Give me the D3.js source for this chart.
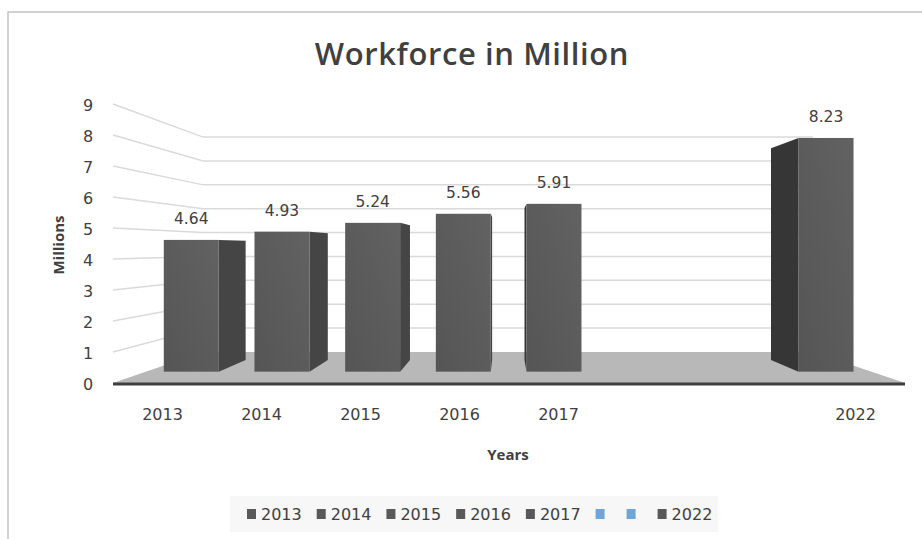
<!DOCTYPE html>
<html>
<head>
<meta charset="utf-8">
<script src="https://cdn.jsdelivr.net/npm/d3@7/dist/d3.min.js"></script>
<style>
  body { margin: 0; background: #fff; }
  text { fill: #404040; }
</style>
</head>
<body>
<svg width="922" height="539"></svg>
<script>
// chart data
var years = ['2013', '2014', '2015', '2016', '2017', '', '', '2022'];
var workforce = [4.64, 4.93, 5.24, 5.56, 5.91, null, null, 8.23];
var legendColors = ['#595959', '#595959', '#595959', '#595959', '#595959', '#6fa6da', '#6fa6da', '#595959'];
var yTicks = [0, 1, 2, 3, 4, 5, 6, 7, 8, 9];

var svg = d3.select('svg');

//border of the chart area
svg.append('path')
	.attr('d', 'M8,539 L8,12 L922,12')
	.attr('fill', 'none')
	.attr('stroke', '#c4c4c4')
	.attr('stroke-width', 1.5);

svg.append('text')
	.attr('x', 472).attr('y', 53)
	.attr('text-anchor', 'middle')
	.attr('dominant-baseline', 'central')
	.style('font-family', 'Open Sans')
	.style('font-weight', 600)
	.style('font-size', '31px')
	.style('letter-spacing', '0.6px')
	.text('Workforce in Million');

//front plane scales (depth 0), then a simple perspective towards the vanishing point
var xScale = d3.scaleBand()
	.domain(d3.range(years.length))
	.range([113, 905]);

var yScale = d3.scaleLinear()
	.domain([0, 9])
	.range([383, 104]);

var vp = [505, 248];
var persp = 0.2987; // back wall ends up at 0.77 of the front size

var proj = function(x, y, t) {
	var s = 1 / (1 + persp * t);
	return [vp[0] + s * (x - vp[0]), vp[1] + s * (y - vp[1])];
}

var poly = function(pts) {
	return 'M' + pts.map(p => p.join(',')).join('L') + 'Z';
}

var walls = svg.append('g');

// gridlines: side wall + back wall
walls.selectAll('path.grid')
	.data(yTicks.filter(v => v > 0))
	.enter().append('path')
	.attr('class', 'grid')
	.attr('d', v => {
		var a = proj(113, yScale(v), 0), b = proj(113, yScale(v), 1), c = proj(905, yScale(v), 1);
		return 'M' + a + 'L' + b + 'L' + c;
	})
	.attr('fill', 'none')
	.attr('stroke', '#dadada')
	.attr('stroke-width', 1.5);

// floor
walls.append('path')
	.attr('d', poly([proj(113, yScale(0), 0), proj(905, yScale(0), 0), proj(905, yScale(0), 1), proj(113, yScale(0), 1)]))
	.attr('fill', '#b8b8b8');

walls.append('line')
	.attr('x1', 113).attr('x2', 905)
	.attr('y1', yScale(0) + 1).attr('y2', yScale(0) + 1)
	.attr('stroke', '#3f3f3f')
	.attr('stroke-width', 3);

// gradient for bar fronts
var defs = svg.append('defs');
var grad = defs.append('linearGradient')
	.attr('id', 'front')
	.attr('x1', 0).attr('y1', 1).attr('x2', 1).attr('y2', 0);
grad.append('stop').attr('offset', '0%').attr('stop-color', '#555555');
grad.append('stop').attr('offset', '100%').attr('stop-color', '#626262');

// bars
var t0 = 0.307, t1 = 0.686;
var barW = xScale.bandwidth() * 0.606;

var barData = years.map((y, i) => ({i: i, year: y, value: workforce[i]}))
	.filter(d => d.value != null);

var bars = svg.append('g').selectAll('g')
	.data(barData)
	.enter().append('g');

bars.each(function(d) {
	var g = d3.select(this);
	var cx = xScale(d.i) + xScale.bandwidth() / 2;
	var xl = cx - barW / 2, xr = cx + barW / 2;
	var yt = yScale(d.value), yb = yScale(0);
	var ex = cx < vp[0] ? xr : xl;
	var right = cx > vp[0];

	g.append('path')
		.attr('d', poly([proj(ex, yt, t0), proj(ex, yt, t1), proj(ex, yb, t1), proj(ex, yb, t0)]))
		.attr('fill', right ? '#363636' : '#454545');

	var a = proj(xl, yt, t0), b = proj(xr, yb, t0);
	g.append('rect')
		.attr('x', a[0]).attr('y', a[1])
		.attr('width', b[0] - a[0]).attr('height', b[1] - a[1])
		.attr('fill', 'url(#front)');

	g.append('text')
		.attr('x', (a[0] + b[0]) / 2)
		.attr('y', a[1] - 21)
		.attr('text-anchor', 'middle')
		.attr('dominant-baseline', 'central')
		.style('font-family', 'DejaVu Sans')
		.style('font-size', '15.5px')
		.text(d.value.toFixed(2));
});

// y axis labels
svg.append('g').selectAll('text')
	.data(yTicks)
	.enter().append('text')
	.attr('x', 88)
	.attr('y', v => yScale(v) + 1)
	.attr('text-anchor', 'middle')
	.attr('dominant-baseline', 'central')
	.style('font-family', 'DejaVu Sans')
	.style('font-size', '16px')
	.text(v => v);

// x axis labels
svg.append('g').selectAll('text')
	.data(years.map((y, i) => ({i: i, year: y})).filter(d => d.year !== ''))
	.enter().append('text')
	.attr('x', d => xScale(d.i) + xScale.bandwidth() / 2)
	.attr('y', 414)
	.attr('text-anchor', 'middle')
	.attr('dominant-baseline', 'central')
	.style('font-family', 'DejaVu Sans')
	.style('font-size', '16px')
	.text(d => d.year);

svg.append('text')
	.attr('x', 508).attr('y', 454)
	.attr('text-anchor', 'middle')
	.attr('dominant-baseline', 'central')
	.style('font-family', 'Open Sans')
	.style('font-weight', 700)
	.style('font-size', '15px')
	.text('Years');

svg.append('text')
	.attr('transform', 'translate(58,245) rotate(-90)')
	.attr('text-anchor', 'middle')
	.attr('dominant-baseline', 'central')
	.style('font-family', 'Open Sans')
	.style('font-weight', 700)
	.style('font-size', '15px')
	.text('Millions');

// legend
var legend = svg.append('g');
legend.append('rect')
	.attr('x', 230).attr('y', 496)
	.attr('width', 488).attr('height', 36)
	.attr('fill', '#f7f7f7');

var lx = 247;
years.forEach((y, i) => {
	legend.append('rect')
		.attr('x', lx).attr('y', 509)
		.attr('width', 9).attr('height', 10)
		.attr('fill', legendColors[i]);
	var t = legend.append('text')
		.attr('x', lx + 14)
		.attr('y', 514)
		.attr('dominant-baseline', 'central')
		.style('font-family', 'DejaVu Sans')
		.style('font-size', '16px')
		.text(y);
	var w = y === '' ? 2 : t.node().getComputedTextLength();
	lx += 15 + w + 14;
});
</script>
</body>
</html>
